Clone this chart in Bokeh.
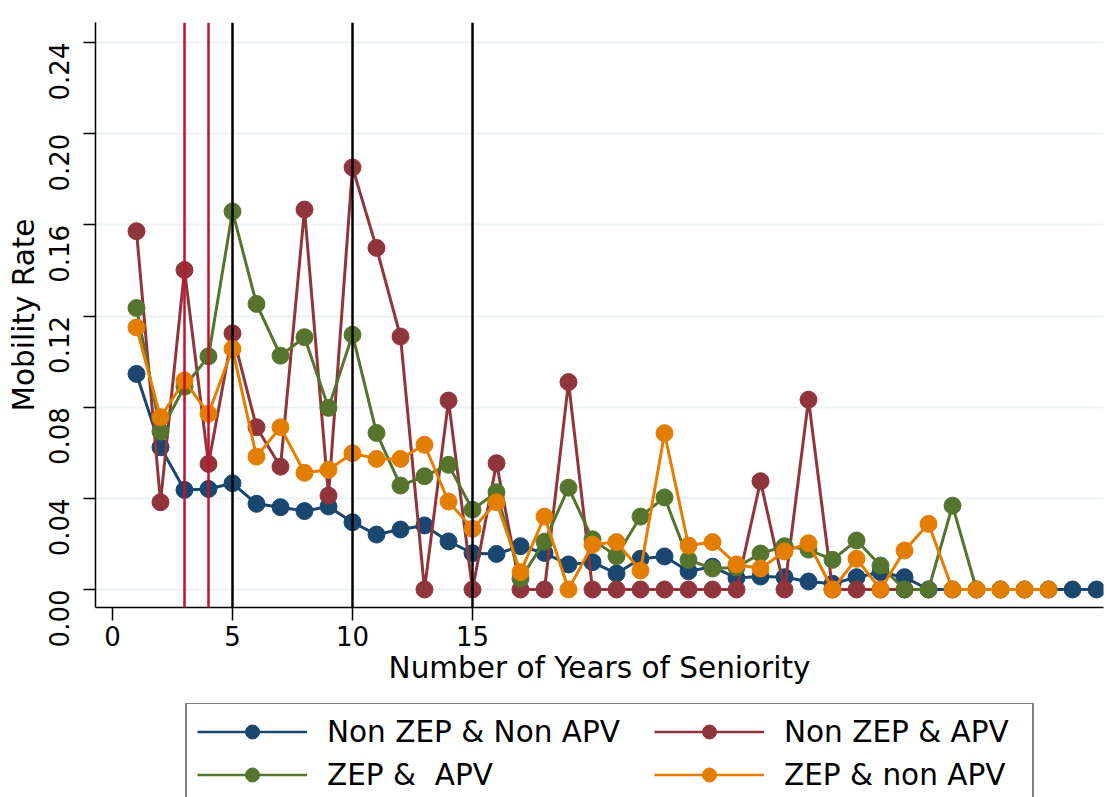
import math
from bokeh.plotting import figure
from bokeh.layouts import column
from bokeh.models import Span, Legend, LegendItem, FixedTicker, PrintfTickFormatter, Range1d
from bokeh.embed import file_html
from bokeh.resources import INLINE

# ---- data ----
series_names = ["Non ZEP & Non APV", "Non ZEP & APV", "ZEP &  APV", "ZEP & non APV"]
series_colors = ["#1A476F", "#90353B", "#55752F", "#E37E00"]

x_blue = list(range(1, 42))
y_blue = [0.0946, 0.0624, 0.0437, 0.0441, 0.0466, 0.0376, 0.0361, 0.0344, 0.0364, 0.0295,
          0.0241, 0.0263, 0.0281, 0.0211, 0.0159, 0.0156, 0.0190, 0.0160, 0.0110, 0.0120,
          0.0070, 0.0135, 0.0145, 0.0080, 0.0100, 0.0050, 0.0057, 0.0054, 0.0035, 0.0025,
          0.0054, 0.0076, 0.0054, 0.0, 0.0, 0.0, 0.0, 0.0, 0.0, 0.0, 0.0]

x_red = list(range(1, 34))
y_red = [0.1572, 0.0383, 0.1402, 0.0551, 0.1124, 0.0712, 0.0539, 0.1667, 0.0412, 0.1852,
         0.1499, 0.1110, 0.0, 0.0829, 0.0, 0.0554, 0.0, 0.0, 0.0910, 0.0,
         0.0, 0.0, 0.0, 0.0, 0.0, 0.0, 0.0475, 0.0, 0.0833, 0.0,
         0.0, 0.0, 0.0]

x_green = list(range(1, 39))
y_green = [0.1235, 0.0693, 0.0890, 0.1023, 0.1659, 0.1253, 0.1026, 0.1107, 0.0797, 0.1118,
           0.0687, 0.0456, 0.0497, 0.0547, 0.0350, 0.0427, 0.0048, 0.0210, 0.0447, 0.0220,
           0.0146, 0.0320, 0.0404, 0.0130, 0.0092, 0.0097, 0.0158, 0.0190, 0.0175, 0.0130,
           0.0215, 0.0105, 0.0, 0.0, 0.0368, 0.0, 0.0, 0.0]

x_orange = list(range(1, 40))
y_orange = [0.1150, 0.0756, 0.0917, 0.0771, 0.1056, 0.0583, 0.0712, 0.0512, 0.0525, 0.0598,
            0.0573, 0.0573, 0.0635, 0.0386, 0.0266, 0.0383, 0.0076, 0.0320, 0.0, 0.0197,
            0.0208, 0.0083, 0.0686, 0.0193, 0.0208, 0.0110, 0.0092, 0.0167, 0.0203, 0.0,
            0.0135, 0.0, 0.0171, 0.0288, 0.0, 0.0, 0.0, 0.0, 0.0]

red_vlines = [3, 4]
black_vlines = [5, 10, 15]
x_ticks = [0, 5, 10, 15]
y_ticks = [0.0, 0.04, 0.08, 0.12, 0.16, 0.20, 0.24]

FONT = "DejaVu Sans"

p = figure(width=1107, height=703, output_backend="svg", toolbar_location=None,
           x_range=Range1d(-0.708, 41.29), y_range=Range1d(-0.0079, 0.2488),
           min_border_left=95, min_border_top=22, min_border_right=4,
           min_border_bottom=96)
p.outline_line_color = None
p.background_fill_color = "white"
p.border_fill_color = "white"

p.xgrid.visible = False
p.ygrid.ticker = FixedTicker(ticks=y_ticks)
p.ygrid.grid_line_color = "#EAF2F3"
p.ygrid.grid_line_width = 2

for ax in (p.xaxis[0], p.yaxis[0]):
    ax.axis_line_color = "black"
    ax.axis_line_width = 1.5
    ax.major_tick_line_color = "black"
    ax.major_tick_line_width = 1.5
    ax.minor_tick_line_color = None
    ax.major_tick_in = 0
    ax.major_label_text_font = FONT
    ax.major_label_text_font_size = "26px"
    ax.major_label_text_color = "black"
    ax.axis_label_text_font = FONT
    ax.axis_label_text_font_size = "29.5px"
    ax.axis_label_text_font_style = "normal"
    ax.axis_label_text_color = "black"

p.xaxis.ticker = FixedTicker(ticks=x_ticks)
p.xaxis.major_tick_out = 13
p.xaxis.major_label_standoff = 5
p.xaxis.axis_label = "Number of Years of Seniority"
p.xaxis.axis_label_standoff = 2

p.yaxis.ticker = FixedTicker(ticks=y_ticks)
p.yaxis.formatter = PrintfTickFormatter(format="%.2f")
p.yaxis.major_tick_out = 12
p.yaxis.major_label_standoff = 24
p.yaxis.major_label_orientation = math.pi / 2
p.yaxis.axis_label = "Mobility Rate"
p.yaxis.axis_label_standoff = -4

for xv in red_vlines:
    p.add_layout(Span(location=xv, dimension="height", line_color="#C8102E", line_width=2.5))
for xv in black_vlines:
    p.add_layout(Span(location=xv, dimension="height", line_color="black", line_width=2.5))

data = [(x_blue, y_blue), (x_red, y_red), (x_green, y_green), (x_orange, y_orange)]
for (xs, ys), col in zip(data, series_colors):
    p.line(xs, ys, line_color=col, line_width=3)
    p.scatter(xs, ys, marker="circle", size=17, fill_color=col, line_color=col)

# ---- legend strip (separate figure below the plot; its ranges keep the series out of view) ----
q = figure(width=1107, height=94, output_backend="svg", toolbar_location=None,
           x_range=Range1d(100, 101), y_range=Range1d(100, 101),
           min_border=0, min_border_left=0, min_border_right=0,
           min_border_top=0, min_border_bottom=0)
q.axis.visible = False
q.grid.visible = False
q.outline_line_color = None
q.background_fill_color = "white"
q.border_fill_color = "white"

items = []
for (xs, ys), name, col in zip(data, series_names, series_colors):
    ln = q.line(xs, ys, line_color=col, line_width=2.5)
    sc = q.scatter(xs, ys, marker="circle", size=17, fill_color=col, line_color=col)
    items.append(LegendItem(label=name, renderers=[ln, sc]))

common = dict(orientation="vertical", label_text_font=FONT, label_text_font_size="29.5px",
              label_text_color="black", glyph_width=110, glyph_height=35,
              label_standoff=20, spacing=8, padding=10, margin=0)

legend_a = Legend(items=[items[0], items[2]], location=(90, -7), label_width=695,
                  border_line_color="black", border_line_width=2,
                  background_fill_color="white", background_fill_alpha=1.0, **common)
legend_b = Legend(items=[items[1], items[3]], location=(559, 5),
                  border_line_color=None, background_fill_alpha=0.0, **common)
q.add_layout(legend_a)
q.add_layout(legend_b)

layout = column(p, q, spacing=0)
open("out.html", "w").write(file_html(layout, INLINE))
